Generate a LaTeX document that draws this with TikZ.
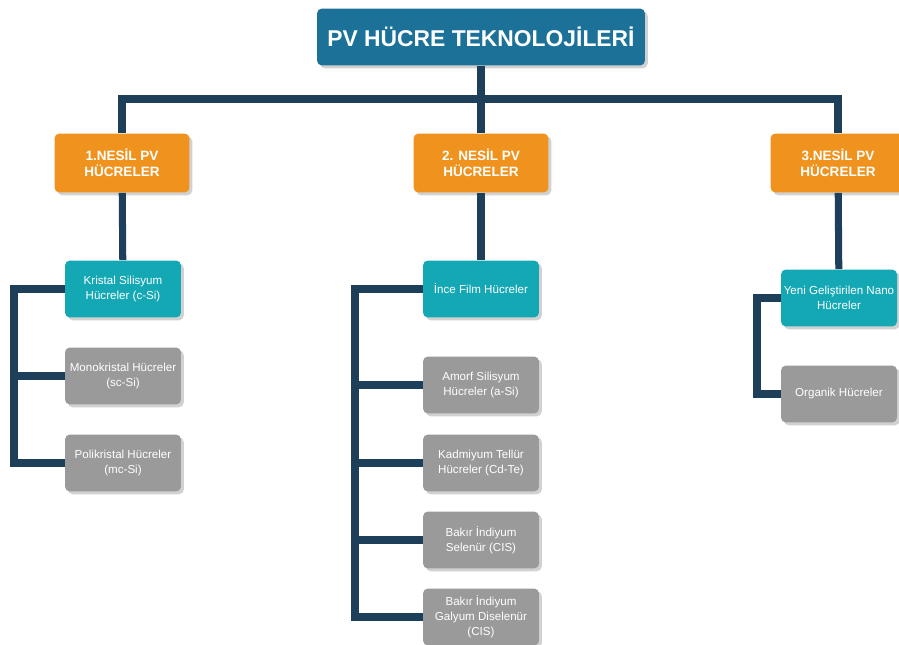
\documentclass[tikz,border=0pt]{standalone}
\usepackage{fontspec}
\setmainfont{Liberation Sans}
\usetikzlibrary{shadows}
\definecolor{titleblue}{HTML}{1B7197}
\definecolor{genorange}{HTML}{F0931E}
\definecolor{subteal}{HTML}{14A8B5}
\definecolor{leafgray}{HTML}{9A9A9A}
\definecolor{linknavy}{HTML}{1E3F5A}

\begin{document}
\begin{tikzpicture}[
  x=0.02cm, y=-0.02cm,
  every node/.style={font=\small},
  box/.style={rectangle, rounded corners=2.8pt, text=white, align=center, inner sep=1pt,
    drop shadow={shadow xshift=1.6pt, shadow yshift=-1.6pt, fill=black!40, opacity=0.45}},
  topbox/.style={box, fill=titleblue, minimum width=6.56cm, minimum height=1.14cm, font=\fontsize{13}{15}\selectfont\bfseries},
  genbox/.style={box, fill=genorange, minimum width=2.7cm, minimum height=1.18cm, font=\fontsize{7.7}{9.4}\selectfont\bfseries},
  subbox/.style={box, fill=subteal, minimum width=2.32cm, minimum height=1.14cm, font=\fontsize{6.6}{8.5}\selectfont},
  leafbox/.style={subbox, fill=leafgray},
  conn/.style={draw=linknavy, line width=4pt},
]
\useasboundingbox (0,0) rectangle (899,645);

% Title
\node[topbox] (title) at (481,37) {PV HÜCRE TEKNOLOJİLERİ};

% Generations
\node[genbox] (g1) at (122,163) {1.NESİL PV\\HÜCRELER};
\node[genbox] (g2) at (481,163) {2. NESİL PV\\HÜCRELER};
\node[genbox] (g3) at (838,163) {3.NESİL PV\\HÜCRELER};

% 1st generation
\node[subbox] (k1) at (123,289) {Kristal Silisyum\\Hücreler (c-Si)};
\node[leafbox] (m1) at (123,376) {Monokristal Hücreler\\(sc-Si)};
\node[leafbox] (p1) at (123,463) {Polikristal Hücreler\\(mc-Si)};

% 2nd generation
\node[subbox] (f2) at (481,289) {İnce Film Hücreler};
\node[leafbox] (a2) at (481,385) {Amorf Silisyum\\Hücreler (a-Si)};
\node[leafbox] (c2) at (481,463) {Kadmiyum Tellür\\Hücreler (Cd-Te)};
\node[leafbox] (s2) at (481,540) {Bakır İndiyum\\Selenür (CIS)};
\node[leafbox] (d2) at (481,617) {Bakır İndiyum\\Galyum Diselenür\\(CIS)};

% 3rd generation
\node[subbox] (n3) at (839,298) {Yeni Geliştirilen Nano\\Hücreler};
\node[leafbox] (o3) at (839,394) {Organik Hücreler};

% Connectors
\coordinate (bus) at (481,99);
\coordinate (spine1) at (14,289);
\coordinate (spine2) at (355,289);
\coordinate (spine3) at (757,298);

\draw[conn] (title) -- (bus);
\draw[conn] (g1.north) |- (bus) -| (g3.north);
\draw[conn] (bus) -- (g2.north);

\draw[conn] (g1) -- (k1);
\draw[conn] (g2) -- (f2);
\draw[conn] (g3) -- (n3);

\draw[conn] (k1.west) -- (spine1) |- (p1.west);
\draw[conn] (m1.west) -- (m1.west -| spine1);

\draw[conn] (f2.west) -- (spine2) |- (d2.west);
\foreach \leaf in {a2,c2,s2}
  \draw[conn] (\leaf.west) -- (\leaf.west -| spine2);

\draw[conn] (n3.west) -- (spine3) |- (o3.west);

\end{tikzpicture}
\end{document}
